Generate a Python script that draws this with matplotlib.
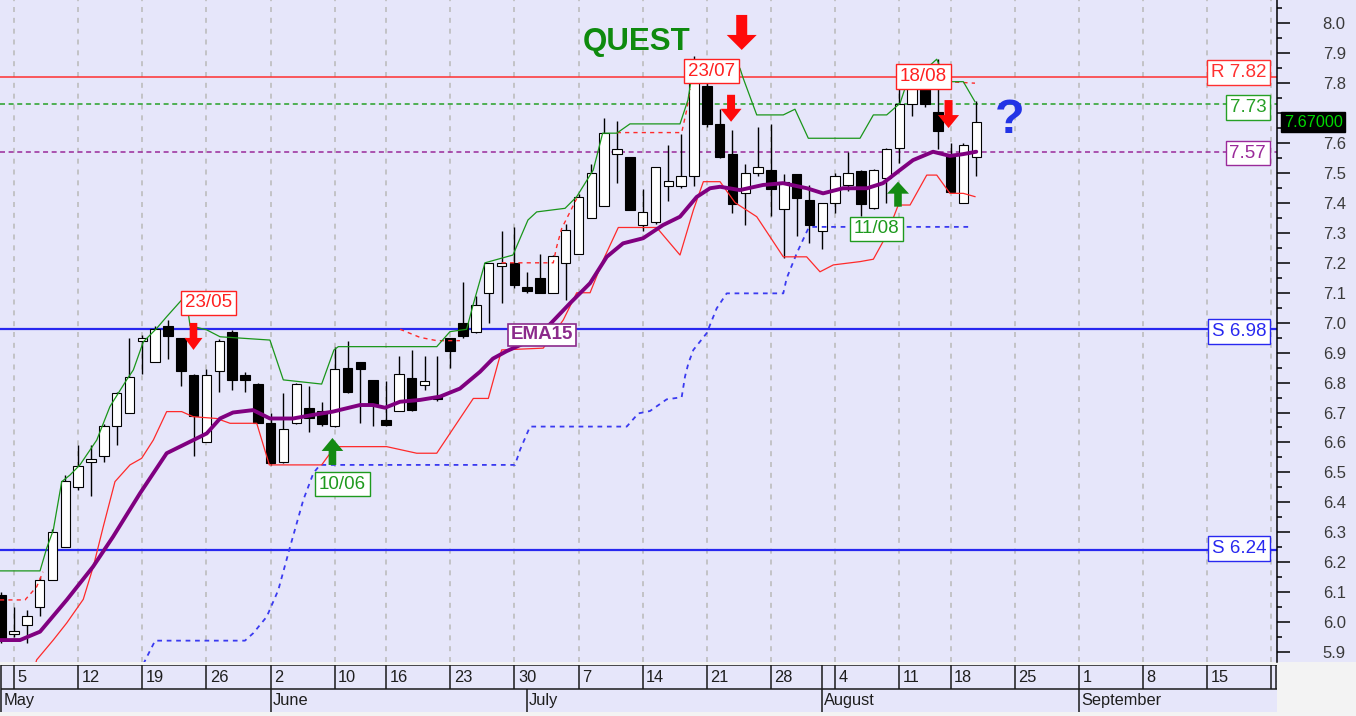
"""QUEST daily candlesticks, May - August 2014: channel, stop line, EMA15, levels."""

import numpy as np
import matplotlib
matplotlib.use("Agg")
import matplotlib.pyplot as plt
from matplotlib import font_manager
from matplotlib.patches import Polygon, Rectangle
from matplotlib.ticker import MultipleLocator, FuncFormatter
from matplotlib.transforms import ScaledTranslation, blended_transform_factory

W, H, DPI = 1356, 716, 100

# One candle per trading day. Day 0 is Monday 5 May, day -1 is Friday 2 May.
FIRST_DAY = -1
OPEN = [6.09, 5.96, 5.99, 6.05, 6.14, 6.25, 6.45, 6.535, 6.555, 6.655,
        6.70, 6.94, 6.87, 6.99, 6.95, 6.825, 6.60, 6.84, 6.97, 6.825,
        6.795, 6.665, 6.535, 6.665, 6.715, 6.705, 6.655, 6.85, 6.87, 6.81,
        6.675, 6.705, 6.815, 6.792, 6.755, 6.95, 7.00, 6.97, 7.10, 7.19,
        7.20, 7.12, 7.15, 7.10, 7.20, 7.23, 7.35, 7.39, 7.565, 7.555,
        7.325, 7.335, 7.455, 7.455, 7.49, 7.79, 7.665, 7.565, 7.432, 7.50,
        7.51, 7.38, 7.495, 7.41, 7.305, 7.40, 7.46, 7.505, 7.382, 7.482,
        7.585, 7.73, 7.785, 7.705, 7.565, 7.40, 7.555]
HIGH = [6.10, 6.05, 6.04, 6.15, 6.31, 6.49, 6.59, 6.59, 6.66, 6.77,
        6.95, 6.96, 6.99, 7.01, 6.95, 6.83, 6.845, 6.945, 6.975, 6.835,
        6.80, 6.70, 6.765, 6.80, 6.79, 6.735, 6.92, 6.94, 6.87, 6.81,
        6.805, 6.89, 6.91, 6.89, 6.89, 6.95, 7.135, 7.09, 7.20, 7.305,
        7.32, 7.17, 7.23, 7.225, 7.33, 7.43, 7.53, 7.685, 7.675, 7.555,
        7.445, 7.52, 7.595, 7.63, 7.89, 7.81, 7.715, 7.645, 7.53, 7.655,
        7.665, 7.495, 7.495, 7.46, 7.40, 7.50, 7.57, 7.51, 7.515, 7.585,
        7.80, 7.83, 7.80, 7.88, 7.60, 7.60, 7.74]
LOW = [5.93, 5.95, 5.93, 6.02, 6.14, 6.25, 6.44, 6.42, 6.535, 6.59,
       6.70, 6.83, 6.87, 6.88, 6.79, 6.555, 6.60, 6.77, 6.775, 6.77,
       6.665, 6.525, 6.53, 6.66, 6.635, 6.655, 6.65, 6.765, 6.665, 6.655,
       6.655, 6.705, 6.705, 6.775, 6.74, 6.85, 6.95, 6.965, 7.00, 7.065,
       7.115, 7.10, 7.10, 7.10, 7.075, 7.23, 7.35, 7.39, 7.465, 7.375,
       7.305, 7.33, 7.405, 7.45, 7.455, 7.655, 7.55, 7.365, 7.325, 7.49,
       7.355, 7.215, 7.29, 7.265, 7.245, 7.365, 7.44, 7.355, 7.38, 7.40,
       7.535, 7.69, 7.72, 7.58, 7.435, 7.40, 7.49]
CLOSE = [5.94, 5.97, 6.02, 6.14, 6.30, 6.47, 6.52, 6.545, 6.655, 6.765,
         6.82, 6.95, 6.98, 6.955, 6.84, 6.69, 6.825, 6.94, 6.81, 6.81,
         6.665, 6.53, 6.645, 6.795, 6.68, 6.66, 6.845, 6.77, 6.845, 6.73,
         6.657, 6.83, 6.71, 6.805, 6.745, 6.905, 6.955, 7.06, 7.20, 7.20,
         7.125, 7.105, 7.10, 7.222, 7.31, 7.42, 7.50, 7.635, 7.58, 7.375,
         7.37, 7.52, 7.472, 7.49, 7.80, 7.665, 7.555, 7.395, 7.50, 7.52,
         7.445, 7.47, 7.415, 7.325, 7.40, 7.49, 7.50, 7.395, 7.51, 7.58,
         7.73, 7.80, 7.73, 7.64, 7.437, 7.595, 7.67]

# Indicator lines (x in trading days).
EMA_X = [-1.09, 0.47, 2.03, 4.11, 6.16, 7.72, 9.82, 11.90, 13.46, 15.02,
         16.06, 17.07, 18.63, 19.95, 21.75, 23.30, 24.86, 26.97, 27.98, 28.92,
         30.09, 31.64, 33.20, 34.76, 36.32, 37.33, 38.40, 39.96, 41.78, 43.34,
         44.90, 46.20, 47.47, 49.03, 50.58, 51.91, 53.21, 54.25, 55.03, 56.58,
         58.38, 59.94, 61.81, 63.06, 64.61, 66.48, 67.73, 69.06, 70.07, 71.63,
         72.95, 73.97, 75.0]
EMA_Y = [5.94, 5.94, 5.968, 6.074, 6.185, 6.285, 6.43, 6.564, 6.597, 6.63,
         6.68, 6.70, 6.708, 6.68, 6.68, 6.692, 6.703, 6.725, 6.725, 6.716,
         6.736, 6.742, 6.753, 6.78, 6.836, 6.88, 6.905, 6.935, 6.995, 7.065,
         7.132, 7.22, 7.265, 7.282, 7.326, 7.354, 7.42, 7.449, 7.454, 7.443,
         7.46, 7.466, 7.449, 7.432, 7.449, 7.449, 7.466, 7.51, 7.543, 7.571,
         7.557, 7.563, 7.571]

UPPER_X = [-1.09, 2.03, 2.55, 3.06, 3.72, 4.36, 5.14, 6.45, 7.48, 8.78,
           9.30, 10.08, 11.12, 11.90, 13.07, 13.4, 13.72, 15.02, 16.06, 19.95,
           20.99, 23.98, 24.94, 25.28, 32.95, 33.98, 35.28, 35.78, 36.71, 38.89,
           40.06, 40.74, 42.95, 43.86, 45.15, 45.88, 46.98, 48.01, 51.91, 52.53,
           52.92, 56.58, 56.84, 57.89, 59.96, 60.87, 61.91, 65.94, 66.98, 68.02,
           69.06, 69.58, 71.14, 71.92, 72.70, 73.99, 74.90]
UPPER_Y = [6.171, 6.171, 6.247, 6.307, 6.469, 6.491, 6.525, 6.608, 6.72, 6.809,
           6.842, 6.936, 6.981, 7.02, 7.076, 7.09, 6.99, 6.976, 6.953, 6.942,
           6.809, 6.795, 6.909, 6.92, 6.92, 6.97, 6.978, 7.059, 7.20, 7.226,
           7.343, 7.37, 7.382, 7.421, 7.51, 7.633, 7.633, 7.664, 7.664, 7.744,
           7.85, 7.85, 7.816, 7.694, 7.694, 7.713, 7.616, 7.616, 7.694, 7.694,
           7.733, 7.80, 7.85, 7.88, 7.805, 7.805, 7.738]

LOWER_X = [1.6, 1.77, 3.06, 4.11, 5.40, 6.18, 6.96, 7.87, 9.04, 9.95, 10.86,
           11.90, 13.07, 13.97, 15.80, 16.84, 18.92, 19.90, 23.98, 25.02, 29.05,
           31.39, 32.95, 35.80, 36.97, 38.01, 41.25, 42.81, 43.86, 44.90, 45.93,
           47.10, 50.09, 51.91, 52.95, 53.73, 55.03, 56.20, 57.89, 59.96, 61.78,
           62.82, 63.86, 65.94, 66.98, 68.02, 68.92, 69.84, 71.14, 71.92, 72.95,
           73.99, 74.90]
LOWER_Y = [5.85, 5.874, 5.94, 5.997, 6.076, 6.185, 6.319, 6.469, 6.525, 6.547, 6.608,
           6.703, 6.703, 6.686, 6.68, 6.664, 6.664, 6.525, 6.525, 6.586, 6.586,
           6.564, 6.564, 6.747, 6.747, 6.909, 6.915, 7.009, 7.10, 7.10, 7.21,
           7.318, 7.318, 7.226, 7.376, 7.471, 7.471, 7.401, 7.354, 7.22, 7.22,
           7.17, 7.193, 7.204, 7.212, 7.293, 7.393, 7.393, 7.493, 7.493, 7.432,
           7.432, 7.421]

STOP_X = [10.08, 11.0, 18.00, 18.65, 19.70, 20.60, 21.51, 22.55, 23.33, 23.85,
          39.05, 39.44, 40.22, 47.76, 48.66, 49.57, 50.87, 52.04, 52.30, 52.56,
          52.95, 53.99, 54.77, 55.55, 59.96, 60.22, 61.01, 61.91, 62.30, 74.51]
STOP_Y = [5.86, 5.938, 5.938, 5.963, 6.018, 6.107, 6.25, 6.408, 6.497, 6.525,
          6.525, 6.575, 6.653, 6.653, 6.697, 6.705, 6.744, 6.751, 6.82, 6.864,
          6.909, 6.965, 7.048, 7.098, 7.098, 7.148, 7.232, 7.315, 7.32, 7.32]

RED_DASH = [
    ([-1.09, 0.86, 1.77, 2.26], [6.074, 6.074, 6.118, 6.168]),
    ([30.09, 31.64, 32.95, 34.76], [6.978, 6.951, 6.94, 6.94]),
    ([38.01, 42.03, 42.30, 42.69, 43.34, 43.86], [7.2, 7.2, 7.254, 7.315, 7.37, 7.415]),
    ([46.98, 52.04, 52.43, 52.69], [7.635, 7.635, 7.71, 7.78]),
    ([72.70, 74.90], [7.805, 7.80]),
]

LEVELS = [7.82, 7.73, 7.57, 6.98, 6.24]
LEVEL_TEXT = ["R 7.82", "7.73", "7.57", "S 6.98", "S 6.24"]
LEVEL_COLOURS = ["#FF3030", "#26A026", "#9A2A9A", "#2828F0", "#2828F0"]
LEVEL_STYLES = ["-", (0, (3.6, 2.6)), (0, (3.6, 2.6)), "-", "-"]
LEVEL_LABEL_Y = [7.835, 7.718, 7.566, 6.971, 6.246]
LAST_PRICE = 7.67

# Signal labels: text, colour, day, price
SIGNALS = [("23/05", "#FF2020", 15.16, 7.066),
           ("23/07", "#FF2020", 54.38, 7.840),
           ("18/08", "#FF2020", 70.87, 7.822),
           ("10/06", "#1E9A1E", 25.60, 6.461),
           ("11/08", "#1E9A1E", 67.24, 7.313)]
# Arrows: day, price of the tip, length px, pointing down?, head half-width,
# head length, shaft half-width
ARROWS = [(56.72, 7.911, 35, True, 15, 15, 5.5),
          (13.99, 6.909, 27, True, 9, 12, 3.8),
          (55.89, 7.671, 27, True, 10.5, 13, 4),
          (72.84, 7.650, 28, True, 10.5, 13, 4),
          (24.82, 6.615, 27, False, 10.8, 13, 3.8),
          (68.90, 7.471, 25, False, 11, 12, 3.8)]

WEEK_DAYS = [0, 5, 10, 15, 20, 25, 29, 34, 39, 44, 49, 54, 59, 64, 69, 73,
             78, 83, 88, 93, 98]
WEEK_LABELS = ["5", "12", "19", "26", "2", "10", "16", "23", "30", "7", "14",
               "21", "28", "4", "11", "18", "25", "1", "8", "15", "22"]
MONTH_DAYS = [-1, 20, 40, 63, 83]
MONTH_LABELS = ["May", "June", "July", "August", "September"]
ROW1_EXTRA = [-1, 63]

X_LIM = (-1.09, 98.44)
Y_LIM = (5.8677, 8.0778)
BG = "#E6E6FA"
PLOT_R = 1277 / W
PLOT_B = (H - 661.7) / H


def pick_font(names):
    for name in names:
        try:
            font_manager.findfont(font_manager.FontProperties(family=name),
                                  fallback_to_default=False)
            return name
        except Exception:
            pass
    return "DejaVu Sans"


plt.rcParams["font.family"] = ["Liberation Sans", "DejaVu Sans"]
plt.rcParams["lines.scale_dashes"] = False
DATE_FONT = pick_font(["Liberation Sans Narrow", "Liberation Sans"])
DATE_SIZE = 14.2 if "Narrow" in DATE_FONT else 11.8

fig = plt.figure(figsize=(W / DPI, H / DPI), dpi=DPI, facecolor="#F3F3F3")
fig.add_artist(Rectangle((PLOT_R, PLOT_B), 1 - PLOT_R, 1 - PLOT_B,
                         transform=fig.transFigure, facecolor=BG,
                         edgecolor="none", zorder=-5))

ax = fig.add_axes([0, PLOT_B, PLOT_R, 1 - PLOT_B], facecolor=BG)

for d in WEEK_DAYS:
    ax.axvline(d, color="#BDBDBD", lw=1.2, ls=(0, (3.6, 4.2)), zorder=0.5)

for lvl, col, ls in zip(LEVELS, LEVEL_COLOURS, LEVEL_STYLES):
    ax.axhline(lvl, color=col, lw=1.6 if col == "#2828F0" else 1.1, ls=ls,
               zorder=2)

# candles
days = np.arange(FIRST_DAY, FIRST_DAY + len(OPEN))
o, h, l, c = (np.array(v) for v in (OPEN, HIGH, LOW, CLOSE))
ax.vlines(days, l, h, color="black", lw=1.0, zorder=3)
ax.bar(days, np.maximum(np.abs(c - o), 0.004), bottom=np.minimum(o, c),
       width=0.74, color=np.where(c >= o, "white", "black"),
       edgecolor="black", linewidth=0.8, zorder=3.5)

ax.plot(STOP_X, STOP_Y, color="#3A3AF0", lw=1.3, ls=(0, (3.4, 3.4)), zorder=4)
for xs, ys in RED_DASH:
    ax.plot(xs, ys, color="#FF2A2A", lw=1.0, ls=(0, (3, 3)), zorder=4)
ax.plot(UPPER_X, UPPER_Y, color="#1A961A", lw=0.9, zorder=4.2)
ax.plot(LOWER_X, LOWER_Y, color="#FF2A2A", lw=0.9, zorder=4.2)
ax.plot(EMA_X, EMA_Y, color="#800080", lw=2.8, solid_capstyle="round",
        zorder=4.5)

# level labels at the right edge
for lvl_y, txt, col in zip(LEVEL_LABEL_Y, LEVEL_TEXT, LEVEL_COLOURS):
    ax.text(97.6, lvl_y, txt, color=col, fontsize=13.5, ha="right",
            va="center", zorder=8,
            bbox=dict(boxstyle="square,pad=0.2", facecolor="white",
                      edgecolor=col, linewidth=1.0))

for txt, col, x, y in SIGNALS:
    ax.text(x, y, txt, color=col, fontsize=13.5, ha="center", va="center",
            zorder=8, bbox=dict(boxstyle="square,pad=0.2", facecolor="white",
                                edgecolor=col, linewidth=1.0))
ax.text(41.18, 6.959, "EMA15", color="#8B2A8B", fontsize=13.5,
        fontweight="bold", ha="center", va="center", zorder=8,
        bbox=dict(boxstyle="square,pad=0.15", facecolor="white",
                  edgecolor="#8B2A8B", linewidth=1.2))

ax.text(44.3, 7.911, "QUEST", color="#0E8A0E", fontsize=22.5,
        fontweight="bold", ha="left", va="baseline", zorder=8)
ax.text(77.6, 7.632, "?", color="#2233E6", fontsize=35, fontweight="bold",
        ha="center", va="baseline", zorder=8)


def arrow(x, y, length, down, head_w, head_l, shaft_w, colour):
    s = 1 if down else -1
    pts = np.array([(0, 0), (head_w, s * head_l), (shaft_w, s * head_l),
                    (shaft_w, s * length), (-shaft_w, s * length),
                    (-shaft_w, s * head_l), (-head_w, s * head_l)]) / DPI
    trans = fig.dpi_scale_trans + ScaledTranslation(x, y, ax.transData)
    ax.add_artist(Polygon(pts, closed=True, transform=trans, facecolor=colour,
                          edgecolor="none", zorder=7))


for x, y, length, down, hw, hl, sw in ARROWS:
    arrow(x, y, length, down, hw, hl, sw, "#FF0A0A" if down else "#138A13")

# last price tag, it sits over the 7.7 tick label
ax.text(1.0 + 7 / 1277, LAST_PRICE, f"{LAST_PRICE:.5f}", color="#00D800",
        fontsize=11.7, ha="left", va="center", clip_on=False, zorder=9,
        transform=blended_transform_factory(ax.transAxes, ax.transData),
        bbox=dict(boxstyle="square,pad=0.16", facecolor="black",
                  edgecolor="black"))

ax.set_xlim(*X_LIM)
ax.set_ylim(*Y_LIM)
ax.set_xticks([])
ax.yaxis.tick_right()
ax.yaxis.set_major_locator(MultipleLocator(0.1))
ax.yaxis.set_minor_locator(MultipleLocator(0.05))
ax.yaxis.set_major_formatter(FuncFormatter(
    lambda v, _: "" if abs(v - 7.7) < 0.03 else f"{v:.1f}"))
ax.tick_params(axis="y", which="major", direction="out", length=9.4,
               width=1.1, pad=23.5, labelsize=12, labelcolor="#3A3A3A")
ax.tick_params(axis="y", which="minor", direction="out", length=3.6, width=1.1)
for side in ("top", "left", "bottom"):
    ax.spines[side].set_visible(False)
ax.spines["right"].set_linewidth(1.1)

# date strip
axd = fig.add_axes([0, 4 / H, PLOT_R, 47 / H], facecolor=BG)
axd.set_xlim(*X_LIM)
axd.set_ylim(0, 2)
axd.set_xticks([])
axd.set_yticks([])
for s in axd.spines.values():
    s.set_visible(False)
LINE = dict(color="#1A1A1A", lw=1.1)
axd.hlines([1.98, 0.97], -1, X_LIM[1], **LINE)
axd.vlines(sorted(WEEK_DAYS + ROW1_EXTRA), 0.97, 2, **LINE)
axd.vlines(MONTH_DAYS, 0, 0.97, **LINE)
axd.vlines(X_LIM[1] - 0.04, 0.97, 2, **LINE)
week_off = axd.transData + ScaledTranslation(3.5 / DPI, 0, fig.dpi_scale_trans)
month_off = axd.transData + ScaledTranslation(2 / DPI, 0, fig.dpi_scale_trans)
for d, lab in zip(WEEK_DAYS, WEEK_LABELS):
    axd.text(d, 1.47, lab, transform=week_off, family=DATE_FONT,
             fontsize=DATE_SIZE, color="#1E1E1E", ha="left", va="center",
             clip_on=True)
for d, lab in zip(MONTH_DAYS, MONTH_LABELS):
    axd.text(d, 0.47, lab, transform=month_off, family=DATE_FONT,
             fontsize=DATE_SIZE, color="#1E1E1E", ha="left", va="center",
             clip_on=True)

fig.savefig("out.png", dpi=DPI, facecolor=fig.get_facecolor())
